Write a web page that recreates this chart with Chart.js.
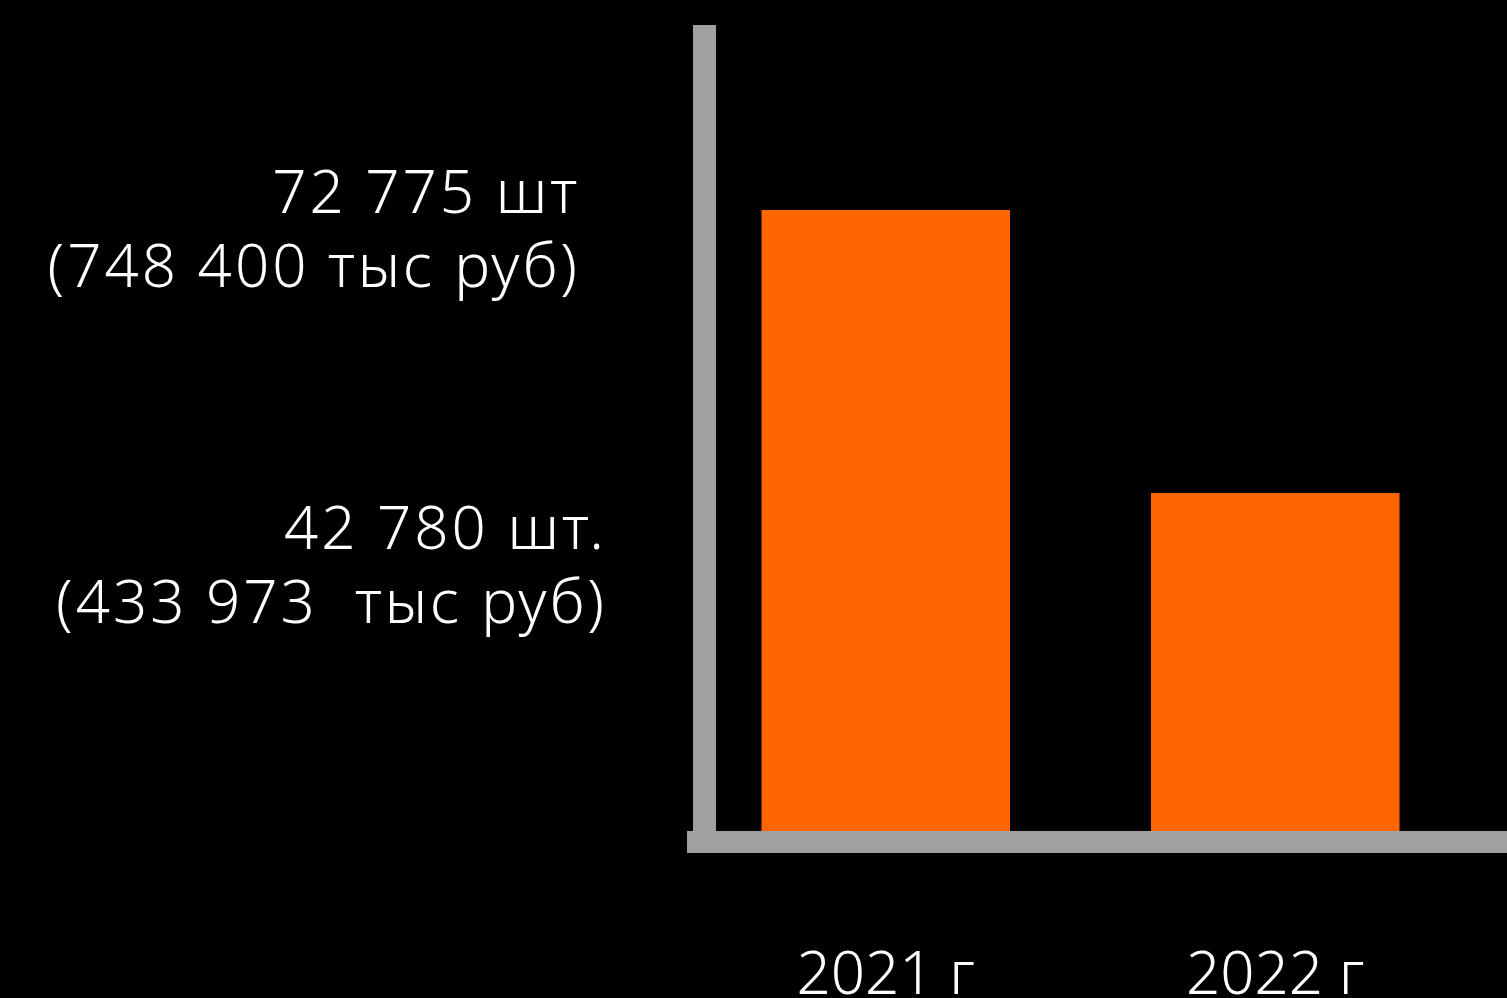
<!DOCTYPE html>
<html lang="ru">
<head>
<meta charset="utf-8">
<title>Продажи 2021–2022</title>
<script src="https://cdn.jsdelivr.net/npm/chart.js@4.4.1/dist/chart.umd.min.js"></script>
<style>
  html, body { margin: 0; padding: 0; background: #000; overflow: hidden; }
  #wrap { position: relative; width: 1507px; height: 1115px; }
</style>
</head>
<body>
<div id="wrap"><canvas id="chart-sales"></canvas></div>
<script>
/* ── Data ── */
const years       = ['2021 г', '2022 г'];
const pieces      = [72775, 42780];
const notesTop    = ['72 775 шт', '42 780 шт.'];
const notesBottom = ['(748 400 тыс руб)', '(433 973  тыс руб)'];

/* ── Look ── */
const ORANGE = '#ff6600';
const GRAY   = '#a0a0a0';
const FONT   = '"Noto Sans", "Open Sans", sans-serif';
const FONT_SIZE = 60;
// where each note sits, relative to the top of its bar / the plot's left edge
const noteShift = [{ dx: -111, dy: 3 }, { dx: -84, dy: 56 }];

/* ── Thick gray axes drawn over the bar bases ── */
const axisFrame = {
  id: 'axisFrame',
  afterDatasetsDraw(chart) {
    const { ctx, chartArea: a, width } = chart;
    const w = 22;
    ctx.save();
    ctx.fillStyle = GRAY;
    ctx.fillRect(a.left + 2, a.top, w + 1, a.bottom - a.top + w);
    ctx.fillRect(a.left - 4, a.bottom, width - a.left + 4, w);
    ctx.restore();
  }
};

/* ── Value notes on the left ── */
const valueNotes = {
  id: 'valueNotes',
  afterDraw(chart) {
    const { ctx, chartArea: a } = chart;
    const y = chart.scales.y;
    ctx.save();
    ctx.fillStyle = '#ffffff';
    ctx.textAlign = 'right';
    ctx.textBaseline = 'alphabetic';
    ctx.font = `300 ${FONT_SIZE}px ${FONT}`;
    ctx.letterSpacing = '3px';
    pieces.forEach((v, i) => {
      const x  = a.left + noteShift[i].dx;
      const y0 = y.getPixelForValue(v) + noteShift[i].dy;
      ctx.fillText(notesTop[i], x, y0);
      ctx.fillText(notesBottom[i], x, y0 + 74);
    });
    ctx.restore();
  }
};

new Chart(document.getElementById('chart-sales'), {
  type: 'bar',
  data: {
    labels: years,
    datasets: [{
      data: pieces,
      backgroundColor: ORANGE,
      borderWidth: 0,
      categoryPercentage: 1,
      barPercentage: 0.638,
    }]
  },
  options: {
    responsive: true,
    maintainAspectRatio: false,
    animation: false,
    layout: { padding: { left: 691, right: 37, top: 25, bottom: 0 } },
    plugins: {
      legend: { display: false },
      tooltip: { enabled: false },
    },
    scales: {
      x: {
        grid: { display: false },
        border: { display: false },
        ticks: {
          color: '#ffffff',
          padding: 102,
          font: { family: FONT, size: FONT_SIZE, weight: 300 },
        },
      },
      y: {
        display: false,
        min: 6950,
        max: 92400,
      }
    }
  },
  plugins: [axisFrame, valueNotes]
});
</script>
</body>
</html>
